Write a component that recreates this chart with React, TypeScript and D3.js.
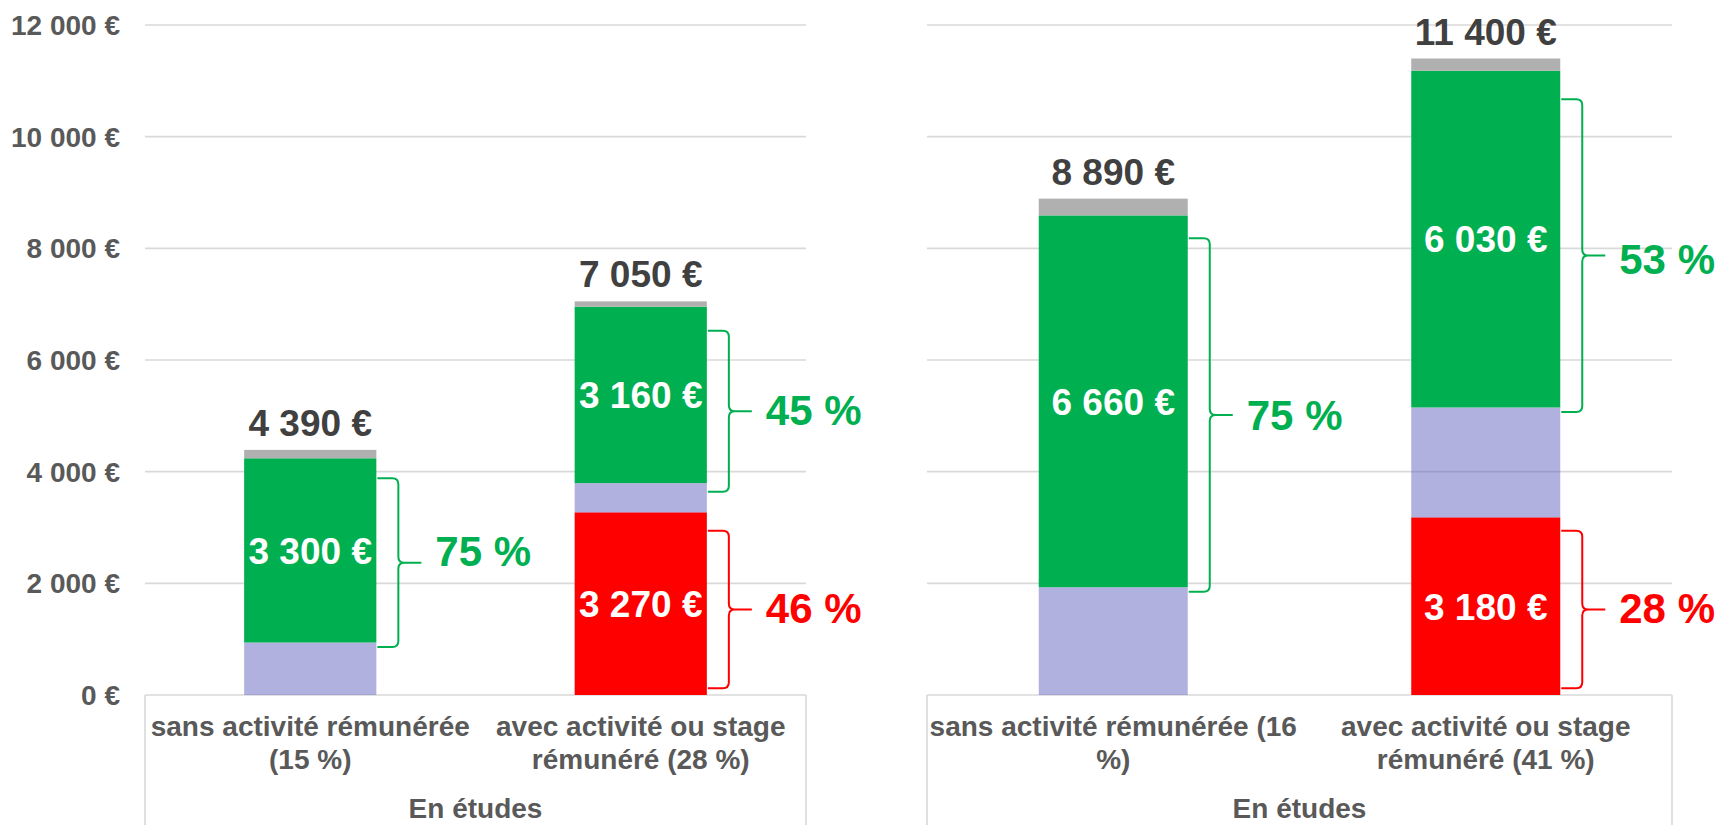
import React from "react";
import * as d3 from "d3";

// ---------- data ----------
const barPanel = [0, 0, 1, 1];
const barCategory = [0, 1, 0, 1];
const categoryLine1 = [
  "sans activité rémunérée",
  "avec activité ou stage",
  "sans activité rémunérée (16",
  "avec activité ou stage",
];
const categoryLine2 = ["(15 %)", "rémunéré (28 %)", "%)", "rémunéré (41 %)"];
const groupLabels = ["En études", "En études"];

const seriesKeys = ["red", "lavender", "green", "gray"];
const redValues = [0, 3270, 0, 3180];
const lavenderValues = [940, 525, 1930, 1970];
const greenValues = [3300, 3160, 6660, 6030];
const grayValues = [150, 95, 300, 220];
const totals = [4390, 7050, 8890, 11400];

const yTicks = [0, 2000, 4000, 6000, 8000, 10000, 12000];

// braces (curly brackets) with percentage labels
const braceBar = [0, 1, 1, 2, 3, 3];
const braceSeries = ["green", "green", "red", "green", "green", "red"];
const braceTop = [3880, 6525, 2940, 8180, 10670, 2940];
const braceBottom = [860, 3640, 120, 1850, 5070, 120];
const braceLabelValue = [2580, 5100, 1560, 5010, 7810, 1565];
const braceLabels = ["75 %", "45 %", "46 %", "75 %", "53 %", "28 %"];

// ---------- styles ----------
const W = 1715;
const H = 825;
const FONT = "'Liberation Sans', Arial, Helvetica, sans-serif";
const colors: Record<string, string> = {
  red: "#ff0000",
  lavender: "#6264c0",
  green: "#00af50",
  gray: "#b0b0b0",
};
const opacities: Record<string, number> = { red: 1, lavender: 0.5, green: 1, gray: 1 };
const GRID = "#d9d9d9";
const AXIS_TEXT = "#595959";
const TOTAL_TEXT = "#404040";

const fmt = (v: number) =>
  String(Math.round(v)).replace(/\B(?=(\d{3})+(?!\d))/g, " ") + " €";

function bracePath(x0: number, xv: number, tip: number, yTop: number, yBot: number, yMid: number) {
  const r = 6;
  return [
    `M${x0},${yTop}`,
    `L${xv - r},${yTop}`,
    `Q${xv},${yTop} ${xv},${yTop + r}`,
    `L${xv},${yMid - r}`,
    `Q${xv},${yMid} ${xv + r},${yMid}`,
    `L${tip},${yMid}`,
    `M${xv + r},${yMid}`,
    `Q${xv},${yMid} ${xv},${yMid + r}`,
    `L${xv},${yBot - r}`,
    `Q${xv},${yBot} ${xv - r},${yBot}`,
    `L${x0},${yBot}`,
  ].join(" ");
}

export default function App() {
  const y = d3.scaleLinear().domain([0, 12000]).range([695, 25]);
  const panelRanges: [number, number][] = [
    [145, 806],
    [927, 1672],
  ];
  const xScales = panelRanges.map((r) =>
    d3.scaleBand<number>().domain([0, 1]).range(r).paddingInner(0.6).paddingOuter(0.3)
  );

  const rows = totals.map((_, i) => ({
    red: redValues[i],
    lavender: lavenderValues[i],
    green: greenValues[i],
    gray: grayValues[i],
  }));
  const stacked = d3.stack<any>().keys(seriesKeys)(rows);

  const barX = (i: number) => xScales[barPanel[i]](barCategory[i]) as number;
  const barW = (i: number) => xScales[barPanel[i]].bandwidth();

  return (
    <svg
      width={W}
      height={H}
      style={{ position: "absolute", left: 0, top: 0, display: "block", background: "#fff" }}
      fontFamily={FONT}
    >
      {/* gridlines */}
      {panelRanges.map((r, p) => (
        <g key={"grid" + p}>
          {yTicks.map((t) => (
            <line key={t} x1={r[0]} x2={r[1]} y1={y(t)} y2={y(t)} stroke={GRID} strokeWidth={1.6} />
          ))}
          <line x1={r[0]} x2={r[0]} y1={y(0)} y2={H} stroke={GRID} strokeWidth={1.6} />
          <line x1={r[1]} x2={r[1]} y1={y(0)} y2={H} stroke={GRID} strokeWidth={1.6} />
        </g>
      ))}

      {/* y tick labels */}
      {yTicks.map((t) => (
        <text
          key={"yt" + t}
          x={120}
          y={y(t)}
          dy="0.36em"
          textAnchor="end"
          fontSize={28}
          fontWeight="bold"
          fill={AXIS_TEXT}
        >
          {fmt(t)}
        </text>
      ))}

      {/* bars */}
      {stacked.map((s) => (
        <g key={s.key} fill={colors[s.key]} fillOpacity={opacities[s.key]}>
          {s.map((d, i) =>
            d[1] - d[0] > 0 ? (
              <rect key={i} x={barX(i)} width={barW(i)} y={y(d[1])} height={y(d[0]) - y(d[1])} />
            ) : null
          )}
        </g>
      ))}

      {/* inside labels */}
      {stacked
        .filter((s) => s.key === "green" || s.key === "red")
        .map((s) =>
          s.map((d, i) =>
            d[1] - d[0] > 0 ? (
              <text
                key={s.key + i}
                x={barX(i) + barW(i) / 2}
                y={y((d[0] + d[1]) / 2)}
                dy="0.36em"
                textAnchor="middle"
                fontSize={37}
                fontWeight="bold"
                fill="#ffffff"
              >
                {fmt(d[1] - d[0])}
              </text>
            ) : null
          )
        )}

      {/* totals */}
      {totals.map((t, i) => (
        <text
          key={"tot" + i}
          x={barX(i) + barW(i) / 2}
          y={y(t) - 14}
          textAnchor="middle"
          fontSize={37}
          fontWeight="bold"
          fill={TOTAL_TEXT}
        >
          {fmt(t)}
        </text>
      ))}

      {/* braces */}
      {braceBar.map((b, k) => {
        const right = barX(b) + barW(b);
        const x0 = right + 1;
        const xv = right + 22;
        const tip = xv + 23;
        const yTop = y(braceTop[k]);
        const yBot = y(braceBottom[k]);
        const yMid = (yTop + yBot) / 2;
        const c = colors[braceSeries[k]];
        return (
          <g key={"br" + k}>
            <path d={bracePath(x0, xv, tip, yTop, yBot, yMid)} fill="none" stroke={c} strokeWidth={2} />
            <text
              x={tip + 14}
              y={y(braceLabelValue[k])}
              dy="0.36em"
              fontSize={42}
              fontWeight="bold"
              fill={c}
            >
              {braceLabels[k]}
            </text>
          </g>
        );
      })}

      {/* category labels */}
      {totals.map((_, i) => (
        <text
          key={"cat" + i}
          x={barX(i) + barW(i) / 2}
          textAnchor="middle"
          fontSize={28}
          fontWeight="bold"
          fill={AXIS_TEXT}
        >
          <tspan x={barX(i) + barW(i) / 2} y={736}>
            {categoryLine1[i]}
          </tspan>
          <tspan x={barX(i) + barW(i) / 2} y={769}>
            {categoryLine2[i]}
          </tspan>
        </text>
      ))}

      {/* group labels */}
      {panelRanges.map((r, p) => (
        <text
          key={"grp" + p}
          x={(r[0] + r[1]) / 2}
          y={818}
          textAnchor="middle"
          fontSize={28}
          fontWeight="bold"
          fill={AXIS_TEXT}
        >
          {groupLabels[p]}
        </text>
      ))}
    </svg>
  );
}
